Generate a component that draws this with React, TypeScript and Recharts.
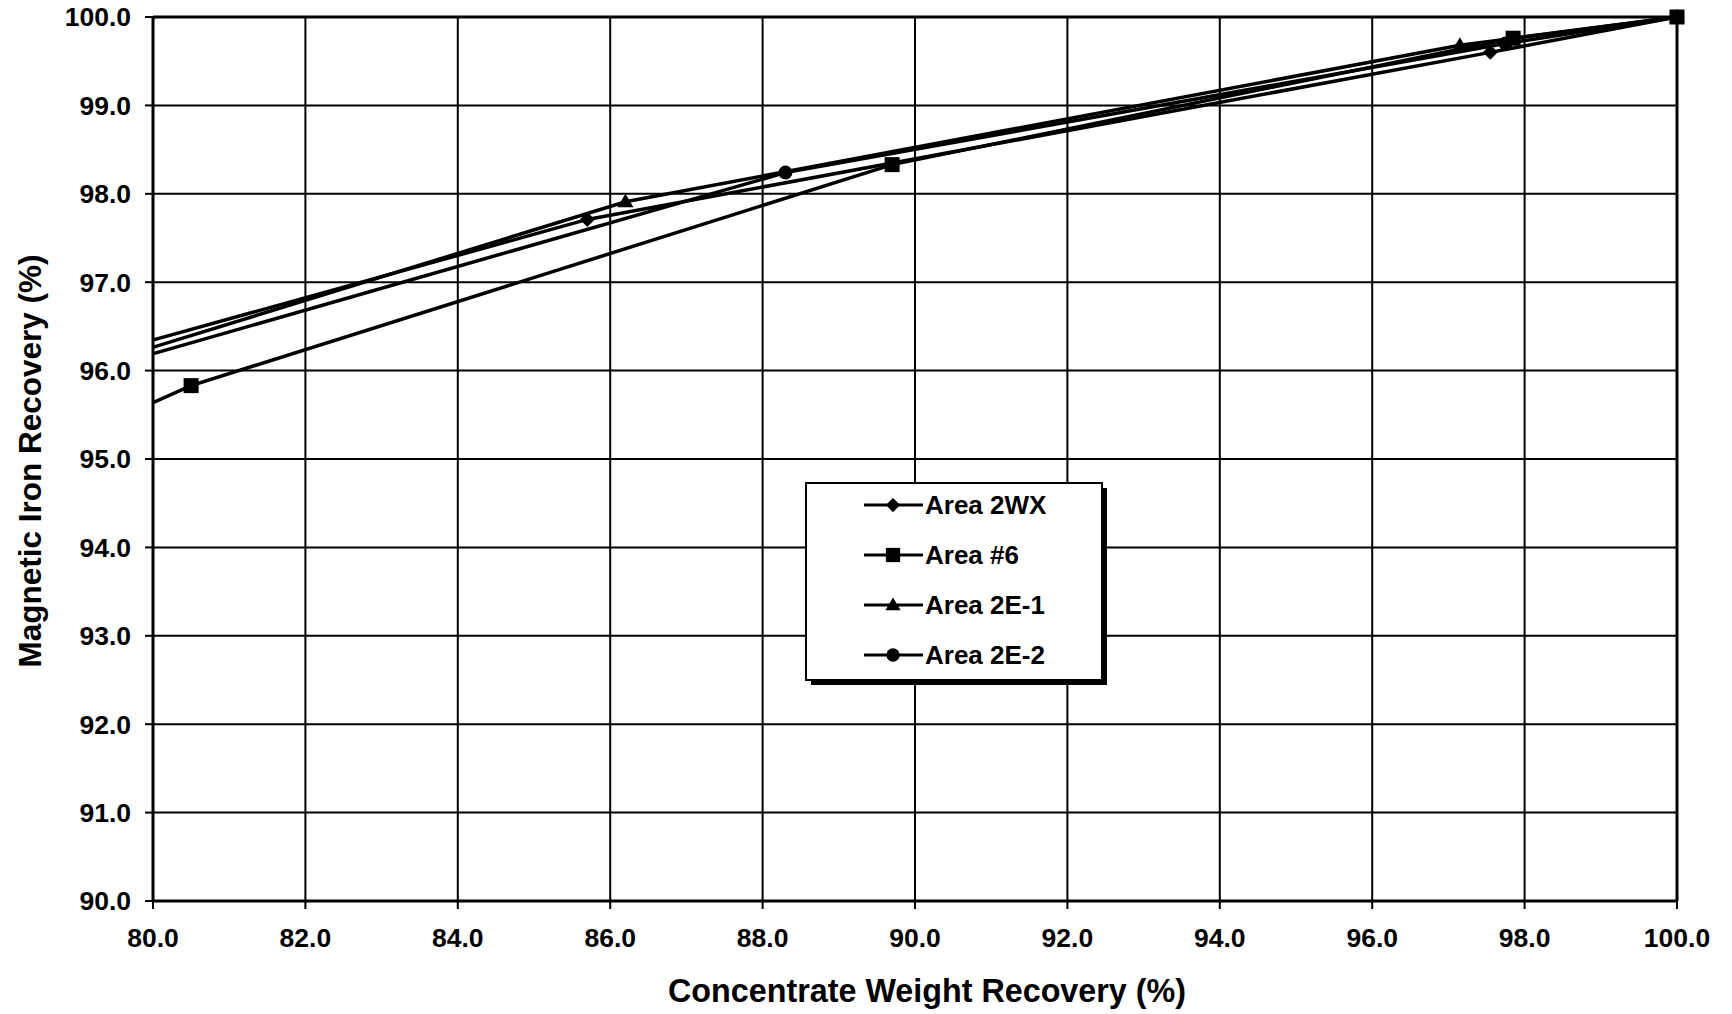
import React from 'react';
import { LineChart, Line, Scatter, XAxis, YAxis, CartesianGrid, ReferenceLine } from 'recharts';

const FONT = '"Liberation Sans", Arial, Helvetica, sans-serif';

// Concentrate weight recovery (%) and magnetic iron recovery (%) per sample area
const area2wxX = [76.8, 85.7, 97.55, 100.0];
const area2wxY = [95.58, 97.71, 99.6, 100.0];

const area6X = [76.0, 80.5, 89.7, 97.85, 100.0];
const area6Y = [94.1, 95.83, 98.33, 99.76, 100.0];

const area2e1X = [77.5, 86.2, 97.15, 100.0];
const area2e1Y = [95.6, 97.91, 99.68, 100.0];

const area2e2X = [78.5, 88.3, 97.75, 100.0];
const area2e2Y = [95.82, 98.24, 99.7, 100.0];

const xTicks = [80, 82, 84, 86, 88, 90, 92, 94, 96, 98, 100];
const yTicks = [90, 91, 92, 93, 94, 95, 96, 97, 98, 99, 100];

const xTitle = 'Concentrate Weight Recovery (%)';
const yTitle = 'Magnetic Iron Recovery (%)';

const X_MIN = 80;
const X_MAX = 100;

const toRows = (xs: number[], ys: number[]) => xs.map((x, i) => ({ x, y: ys[i] }));

type Shape = 'diamond' | 'square' | 'triangle' | 'circle';

const series: { name: string; shape: Shape; data: { x: number; y: number }[] }[] = [
  { name: 'Area 2WX', shape: 'diamond', data: toRows(area2wxX, area2wxY) },
  { name: 'Area #6', shape: 'square', data: toRows(area6X, area6Y) },
  { name: 'Area 2E-1', shape: 'triangle', data: toRows(area2e1X, area2e1Y) },
  { name: 'Area 2E-2', shape: 'circle', data: toRows(area2e2X, area2e2Y) },
];

const Marker = ({ shape, cx, cy, s = 1 }: { shape: Shape; cx: number; cy: number; s?: number }) => {
  if (shape === 'diamond') {
    const r = 7.5 * s;
    return <polygon points={`${cx},${cy - r} ${cx + r},${cy} ${cx},${cy + r} ${cx - r},${cy}`} fill="#000" />;
  }
  if (shape === 'square') {
    const h = 7.5 * s;
    return <rect x={cx - h} y={cy - h} width={2 * h} height={2 * h} fill="#000" />;
  }
  if (shape === 'triangle') {
    const r = 8 * s;
    return <polygon points={`${cx},${cy - r} ${cx + r},${cy + r * 0.7} ${cx - r},${cy + r * 0.7}`} fill="#000" />;
  }
  return <circle cx={cx} cy={cy} r={7 * s} fill="#000" />;
};

const makeShape = (shape: Shape) => (props: any) => {
  const { cx, cy } = props;
  if (cx == null || cy == null) return <g />;
  return <Marker shape={shape} cx={cx} cy={cy} />;
};

const LegendBox = () => (
  <svg width={312} height={212} style={{ display: 'block' }}>
    <rect x={6} y={6} width={296} height={197} fill="#000" />
    <rect x={1} y={1} width={296} height={197} fill="#fff" stroke="#000" strokeWidth={2} />
    {series.map((s, i) => {
      const cy = 23 + 50 * i;
      return (
        <g key={s.name}>
          <line x1={59} x2={118} y1={cy} y2={cy} stroke="#000" strokeWidth={3} />
          <Marker shape={s.shape} cx={88} cy={cy} s={0.95} />
          <text x={120} y={cy + 9} fontFamily={FONT} fontWeight="bold" fontSize={26} fill="#000">
            {s.name}
          </text>
        </g>
      );
    })}
  </svg>
);

const XTitle = (props: any) => {
  const { viewBox } = props;
  const cx = viewBox.x + viewBox.width / 2 + 12;
  return (
    <text x={cx} y={1002} textAnchor="middle" fontFamily={FONT} fontWeight="bold" fontSize={32.3} fill="#000">
      {xTitle}
    </text>
  );
};

const YTitle = (props: any) => {
  const { viewBox } = props;
  const cy = viewBox.y + viewBox.height / 2 + 2;
  const x = 41;
  return (
    <text
      x={x}
      y={cy}
      transform={`rotate(-90, ${x}, ${cy})`}
      textAnchor="middle"
      fontFamily={FONT}
      fontWeight="bold"
      fontSize={31.5}
      fill="#000"
    >
      {yTitle}
    </text>
  );
};

const tickStyle = { fill: '#000', fontSize: 26.5, fontWeight: 'bold', fontFamily: FONT };

export default function App() {
  return (
    <div style={{ position: 'fixed', left: 0, top: 0, width: 1732, height: 1014, background: '#fff', fontFamily: FONT }}>
      <LineChart width={1732} height={1014} margin={{ top: 17, right: 55, bottom: 0, left: 0 }}>
        <CartesianGrid xAxisId="main" stroke="#000" strokeWidth={2} horizontalValues={yTicks} verticalValues={xTicks} />
        <XAxis
          xAxisId="main"
          type="number"
          dataKey="x"
          domain={[X_MIN, X_MAX]}
          ticks={xTicks}
          allowDataOverflow
          height={113}
          tickFormatter={(v: number) => v.toFixed(1)}
          tick={tickStyle}
          tickSize={8}
          tickMargin={19}
          axisLine={{ stroke: '#000', strokeWidth: 3 }}
          tickLine={{ stroke: '#000', strokeWidth: 2 }}
          label={<XTitle />}
        />
        <XAxis xAxisId="marks" type="number" dataKey="x" domain={[X_MIN, X_MAX]} hide />
        <YAxis
          type="number"
          dataKey="y"
          domain={[90, 100]}
          ticks={yTicks}
          width={153}
          tickFormatter={(v: number) => v.toFixed(1)}
          tick={tickStyle}
          tickSize={8}
          tickMargin={14}
          axisLine={{ stroke: '#000', strokeWidth: 3 }}
          tickLine={{ stroke: '#000', strokeWidth: 2 }}
          label={<YTitle />}
        />
        <ReferenceLine xAxisId="main" y={100} stroke="#000" strokeWidth={3} />
        <ReferenceLine xAxisId="main" x={100} stroke="#000" strokeWidth={3} />
        {series.map((s) => (
          <Line
            key={s.name}
            xAxisId="main"
            data={s.data}
            dataKey="y"
            name={s.name}
            type="linear"
            stroke="#000"
            strokeWidth={3.5}
            dot={false}
            activeDot={false}
            isAnimationActive={false}
          />
        ))}
        {series.map((s) => (
          <Scatter
            key={`m-${s.name}`}
            xAxisId="marks"
            data={s.data.filter((d) => d.x >= X_MIN && d.x <= X_MAX)}
            dataKey="y"
            name={s.name}
            shape={makeShape(s.shape)}
            isAnimationActive={false}
          />
        ))}
      </LineChart>
      <div style={{ position: 'absolute', left: 805, top: 482 }}>
        <LegendBox />
      </div>
    </div>
  );
}
